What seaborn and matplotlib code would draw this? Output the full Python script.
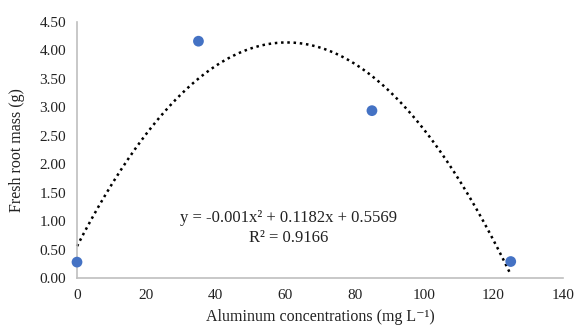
import numpy as np
import pandas as pd
import matplotlib
matplotlib.use("Agg")
import matplotlib.pyplot as plt
import seaborn as sns

conc = [0, 35, 85, 125]
mass = [0.28, 4.16, 2.94, 0.29]
xticks = [0, 20, 40, 60, 80, 100, 120, 140]
yticks = [0.0, 0.5, 1.0, 1.5, 2.0, 2.5, 3.0, 3.5, 4.0, 4.5]

sns.set_theme(style="white")
plt.rcParams['font.family'] = ['Liberation Serif', 'DejaVu Serif']

fig = plt.figure(figsize=(5.79, 3.31), dpi=100)
ax = fig.add_axes([0.133, 0.160, 0.839, 0.774])

df = pd.DataFrame({"x": conc, "y": mass})
# quadratic trendline
coef = np.polyfit(conc, mass, 2)
xs = np.linspace(0, 125, 300)
ys = np.polyval(coef, xs)
sns.lineplot(x=xs, y=ys, ax=ax, color="black", linestyle=(0, (1, 1.5)), linewidth=1.8)
sns.scatterplot(data=df, x="x", y="y", ax=ax, color="#4472C4", s=60, edgecolor="none", zorder=5)

ax.set_xlim(0, 140)
ax.set_ylim(0, 4.5)
ax.set_xticks(xticks)
ax.set_yticks(yticks)
ax.set_yticklabels([f"{v:.2f}" for v in yticks])
ax.tick_params(axis="both", length=0, labelsize=11, colors="#222222", pad=8)
ax.set_xlabel("Aluminum concentrations (mg L\u207b\u00b9)", fontsize=11.5, color="#222222", labelpad=5)
ax.set_ylabel("Fresh root mass (g)", fontsize=11.5, color="#222222", labelpad=10)
for s in ["top", "right"]:
    ax.spines[s].set_visible(False)
for s in ["left", "bottom"]:
    ax.spines[s].set_color("#bfbfbf")
    ax.spines[s].set_linewidth(1.2)
for line in ax.lines:
    line.set_clip_on(False)
for c in ax.collections:
    c.set_clip_on(False)

ax.text(61, 1.05, "y = -0.001x\u00b2 + 0.1182x + 0.5569", ha="center", va="center", fontsize=12, color="#222222")
ax.text(61, 0.70, "R\u00b2 = 0.9166", ha="center", va="center", fontsize=12, color="#222222")

fig.savefig("out.png", dpi=100)
